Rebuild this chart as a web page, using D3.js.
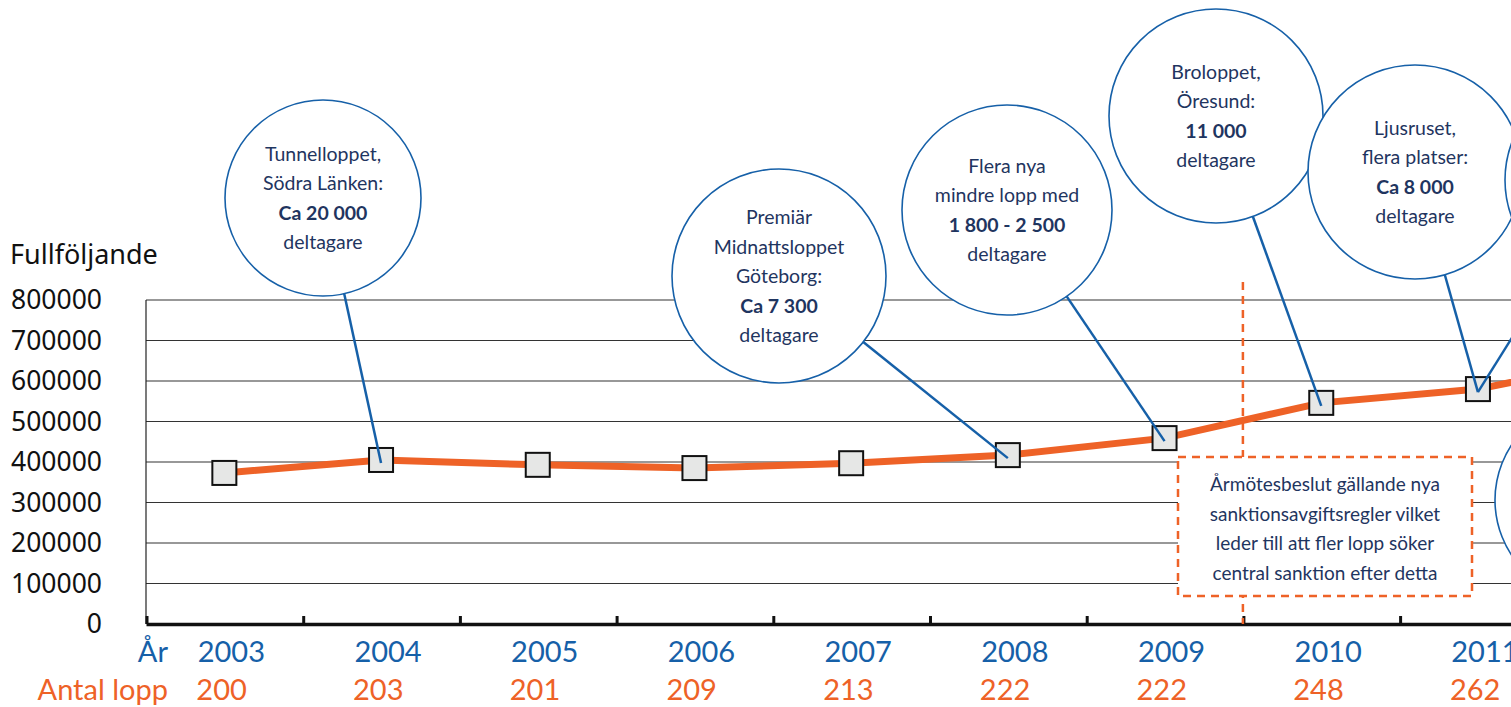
<!DOCTYPE html>
<html>
<head>
<meta charset="utf-8">
<script src="https://cdn.jsdelivr.net/npm/d3@7"></script>
<style>
  body { margin: 0; background: #fff; overflow: hidden; }
</style>
</head>
<body>
<div id="chart"></div>
<script>
// data
const years = ["2003", "2004", "2005", "2006", "2007", "2008", "2009", "2010", "2011", "2012"];
const finishers = [373000, 405000, 393000, 385000, 397000, 417000, 459000, 546000, 580000, 659000];
const races = ["200", "203", "201", "209", "213", "222", "222", "248", "262", ""];
const yTicks = [0, 100000, 200000, 300000, 400000, 500000, 600000, 700000, 800000];

// callouts: year they point at, text lines (bold line index)
const callouts = [
    { year: "2004", cx: 323, cy: 198, r: 98, lines: ["Tunnelloppet,", "Södra Länken:", "Ca 20 000", "deltagare"], bold: 2 },
    { year: "2008", cx: 779, cy: 276, r: 107, lines: ["Premiär", "Midnattsloppet", "Göteborg:", "Ca 7 300", "deltagare"], bold: 3 },
    { year: "2009", cx: 1007, cy: 210, r: 105, lines: ["Flera nya", "mindre lopp med", "1 800 - 2 500", "deltagare"], bold: 2 },
    { year: "2010", cx: 1216, cy: 116, r: 107, lines: ["Broloppet,", "Öresund:", "11 000", "deltagare"], bold: 2 },
    { year: "2011", cx: 1415, cy: 172, r: 107, lines: ["Ljusruset,", "flera platser:", "Ca 8 000", "deltagare"], bold: 2 },
    { year: "2011", cx: 1612, cy: 180, r: 107, lines: [], bold: -1 },
    { year: "2012", cx: 1595, cy: 500, r: 100, lines: [], bold: -1 }
];
const noteLines = ["Årmötesbeslut gällande nya", "sanktionsavgiftsregler vilket", "leder till att fler lopp söker", "central sanktion efter detta"];

const W = 1511, H = 707;
const margin = { top: 300, left: 146, bottom: 83 };
const bandW = 156.7;

const blue = "#1660a8";
const navy = "#1f3560";
const orange = "#ee6227";
const annoFont = "Lato, 'Noto Sans', sans-serif";

let svg = d3.select("#chart").append("svg")
    .attr("width", W)
    .attr("height", H);

let x = d3.scaleBand()
    .domain(years)
    .range([margin.left, margin.left + bandW * years.length]);

let y = d3.scaleLinear()
    .domain([0, 800000])
    .range([H - margin.bottom, margin.top]);

// gridlines
svg.append("g")
    .selectAll("line")
    .data(yTicks.slice(1))
    .enter()
    .append("line")
    .attr("x1", margin.left)
    .attr("x2", x.range()[1])
    .attr("y1", d => y(d))
    .attr("y2", d => y(d))
    .attr("stroke", "#333")
    .attr("stroke-width", 1.2);

// left frame
svg.append("line")
    .attr("x1", margin.left).attr("x2", margin.left)
    .attr("y1", y(800000)).attr("y2", y(0))
    .attr("stroke", "#222").attr("stroke-width", 1.2);

// y labels
svg.append("g")
    .selectAll("text")
    .data(yTicks)
    .enter()
    .append("text")
    .attr("x", 102)
    .attr("y", d => y(d) + 9)
    .attr("text-anchor", "end")
    .attr("font-family", "'Noto Sans', sans-serif")
    .attr("font-size", "26.5px")
    .attr("fill", "#111")
    .text(d => d);

svg.append("text")
    .attr("x", 10).attr("y", 264)
    .attr("font-family", "'Noto Sans', sans-serif")
    .attr("font-size", "27px")
    .attr("fill", "#111")
    .text("Fullföljande");

// x axis with ticks on band edges
let xAxis = d3.axisBottom(x).tickSize(0).tickFormat("");
svg.append("g")
    .attr("transform", `translate(0, ${y(0)})`)
    .call(xAxis)
    .call(g => g.select(".domain").attr("stroke", "#111").attr("stroke-width", 3.5));

svg.append("g")
    .selectAll("line")
    .data(years.concat(["end"]))
    .enter()
    .append("line")
    .attr("x1", (d, i) => margin.left + i * x.bandwidth() + 1)
    .attr("x2", (d, i) => margin.left + i * x.bandwidth() + 1)
    .attr("y1", y(0))
    .attr("y2", y(0) - 8)
    .attr("stroke", "#111")
    .attr("stroke-width", 3);

// dashed divider between 2009 and 2010
let divX = x("2010");
svg.append("line")
    .attr("x1", divX).attr("x2", divX)
    .attr("y1", 282).attr("y2", y(0))
    .attr("stroke", orange)
    .attr("stroke-width", 2.5)
    .attr("stroke-dasharray", "8,6");

// note box
let note = svg.append("g");
note.append("rect")
    .attr("x", 1178).attr("y", 457)
    .attr("width", 294).attr("height", 139)
    .attr("fill", "#fff")
    .attr("stroke", orange)
    .attr("stroke-width", 2.5)
    .attr("stroke-dasharray", "8,6");
note.selectAll("text")
    .data(noteLines)
    .enter()
    .append("text")
    .attr("x", 1325)
    .attr("y", (d, i) => 491 + i * 29.5)
    .attr("text-anchor", "middle")
    .attr("font-family", annoFont)
    .attr("font-size", "19px")
    .attr("fill", navy)
    .text(d => d);

// the line
let line = d3.line()
    .x((d, i) => x(years[i]) + x.bandwidth() / 2)
    .y(d => y(d));

svg.append("path")
    .datum(finishers)
    .attr("d", line)
    .attr("fill", "none")
    .attr("stroke", orange)
    .attr("stroke-width", 7);

// markers
svg.append("g")
    .selectAll("rect")
    .data(finishers)
    .enter()
    .append("rect")
    .attr("x", (d, i) => x(years[i]) + x.bandwidth() / 2 - 12)
    .attr("y", d => y(d) - 12)
    .attr("width", 24)
    .attr("height", 24)
    .attr("fill", "#e6e7e6")
    .attr("stroke", "#111")
    .attr("stroke-width", 2);

// callouts
let cg = svg.append("g");
callouts.forEach(function(c) {
    let i = years.indexOf(c.year);
    let px = x(c.year) + x.bandwidth() / 2;
    let py = y(finishers[i]);
    let ang = Math.atan2(py - c.cy, px - c.cx);
    cg.append("line")
        .attr("x1", c.cx + c.r * Math.cos(ang))
        .attr("y1", c.cy + c.r * Math.sin(ang))
        .attr("x2", px)
        .attr("y2", py + 3)
        .attr("stroke", blue)
        .attr("stroke-width", 2.5);
    cg.append("circle")
        .attr("cx", c.cx).attr("cy", c.cy).attr("r", c.r)
        .attr("fill", "#fff")
        .attr("stroke", blue)
        .attr("stroke-width", 1.6);
    let n = c.lines.length;
    cg.selectAll(null)
        .data(c.lines)
        .enter()
        .append("text")
        .attr("x", c.cx)
        .attr("y", (d, k) => c.cy + (k - (n - 1) / 2) * 29.5 + 7)
        .attr("text-anchor", "middle")
        .attr("font-family", annoFont)
        .attr("font-size", "19.5px")
        .attr("font-weight", (d, k) => k === c.bold ? "bold" : "normal")
        .attr("fill", navy)
        .text(d => d);
});

// bottom labels
svg.append("text")
    .attr("x", 168).attr("y", 662)
    .attr("text-anchor", "end")
    .attr("font-family", annoFont)
    .attr("font-size", "29px")
    .attr("fill", blue)
    .text("År");

svg.append("text")
    .attr("x", 168).attr("y", 700)
    .attr("text-anchor", "end")
    .attr("font-family", annoFont)
    .attr("font-size", "29px")
    .attr("fill", orange)
    .text("Antal lopp");

svg.append("g")
    .selectAll("text")
    .data(years)
    .enter()
    .append("text")
    .attr("x", d => x(d) + x.bandwidth() / 2 + 7)
    .attr("y", 662)
    .attr("text-anchor", "middle")
    .attr("font-family", annoFont)
    .attr("font-size", "29px")
    .attr("fill", blue)
    .text(d => d);

svg.append("g")
    .selectAll("text")
    .data(races)
    .enter()
    .append("text")
    .attr("x", (d, i) => x(years[i]) + x.bandwidth() / 2 - 28)
    .attr("y", 700)
    .attr("text-anchor", "start")
    .attr("font-family", annoFont)
    .attr("font-size", "29px")
    .attr("fill", orange)
    .text(d => d);
</script>
</body>
</html>
